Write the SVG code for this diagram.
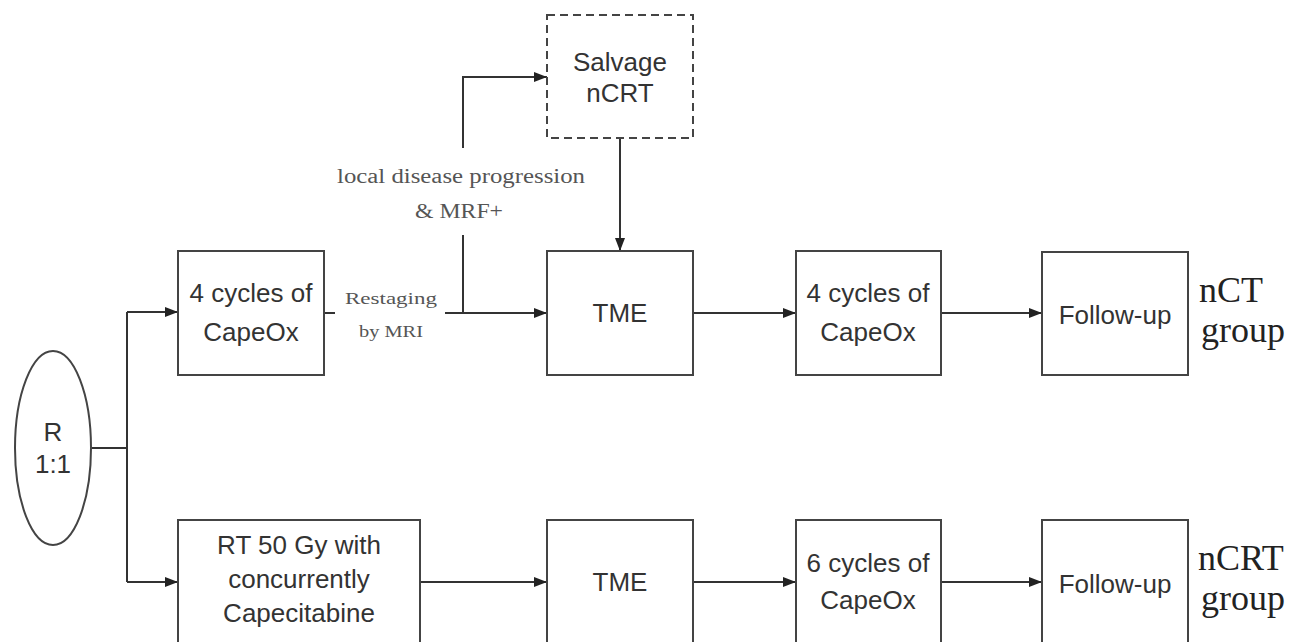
<svg xmlns="http://www.w3.org/2000/svg" width="1294" height="642" viewBox="0 0 1294 642">
<defs>
<style>
.box{fill:#fff;stroke:#444;stroke-width:2}
.dash{fill:#fff;stroke:#444;stroke-width:2;stroke-dasharray:8 5}
.t{font-family:"Liberation Sans",Arial,sans-serif;font-size:26px;fill:#333;text-anchor:middle}
.s{font-family:"Liberation Serif","Times New Roman",serif;fill:#555;text-anchor:middle}
.g{font-family:"Liberation Serif","Times New Roman",serif;font-size:36px;fill:#222;text-anchor:start}
.c{fill:none;stroke:#333;stroke-width:2}
</style>
<marker id="ah" viewBox="0 0 13 10" refX="13" refY="5" markerWidth="13" markerHeight="10" markerUnits="userSpaceOnUse" orient="auto">
<path d="M0,0 L13,5 L0,10 Z" fill="#222"/>
</marker>
</defs>
<rect width="1294" height="642" fill="#fff"/>

<g id="connectors">
<path class="c" d="M92,448 H127"/>
<path class="c" d="M127,312 V582"/>
<path class="c" d="M127,312 H178" marker-end="url(#ah)"/>
<path class="c" d="M127,582 H178" marker-end="url(#ah)"/>
<path class="c" d="M324,313 H335"/>
<path class="c" d="M445,313 H547" marker-end="url(#ah)"/>
<path class="c" d="M463,313 V235"/>
<path class="c" d="M463,148 V77 H547" marker-end="url(#ah)"/>
<path class="c" d="M620,138 V251" marker-end="url(#ah)"/>
<path class="c" d="M693,313 H796" marker-end="url(#ah)"/>
<path class="c" d="M941,313 H1042" marker-end="url(#ah)"/>
<path class="c" d="M420,582 H547" marker-end="url(#ah)"/>
<path class="c" d="M693,582 H796" marker-end="url(#ah)"/>
<path class="c" d="M941,582 H1042" marker-end="url(#ah)"/>
</g>

<g id="labels">
<text class="s" x="391" y="304" font-size="17" textLength="92" lengthAdjust="spacingAndGlyphs">Restaging</text>
<text class="s" x="391" y="337" font-size="17" textLength="64" lengthAdjust="spacingAndGlyphs">by MRI</text>
<text class="s" x="461" y="183" font-size="20" textLength="248" lengthAdjust="spacingAndGlyphs">local disease progression</text>
<text class="s" x="459" y="218" font-size="20" textLength="88" lengthAdjust="spacingAndGlyphs">&amp; MRF+</text>
</g>

<g id="node-R">
<ellipse cx="53" cy="448" rx="38" ry="97" fill="#fff" stroke="#444" stroke-width="2"/>
<text class="t" x="53" y="441" font-size="22">R</text>
<text class="t" x="53" y="473" font-size="22">1:1</text>
</g>

<g id="node-capeox4a">
<rect class="box" x="178" y="251" width="146" height="124"/>
<text class="t" x="251" y="302">4 cycles of</text>
<text class="t" x="251" y="341">CapeOx</text>
</g>

<g id="node-salvage">
<rect class="dash" x="547" y="15" width="146" height="123"/>
<text class="t" x="620" y="71">Salvage</text>
<text class="t" x="620" y="102">nCRT</text>
</g>

<g id="node-tme1">
<rect class="box" x="547" y="251" width="146" height="124"/>
<text class="t" x="620" y="322">TME</text>
</g>

<g id="node-capeox4b">
<rect class="box" x="796" y="251" width="145" height="124"/>
<text class="t" x="868" y="302">4 cycles of</text>
<text class="t" x="868" y="341">CapeOx</text>
</g>

<g id="node-follow1">
<rect class="box" x="1042" y="252" width="146" height="123"/>
<text class="t" x="1115" y="324">Follow-up</text>
</g>

<g id="label-nct">
<text class="g" x="1199" y="302">nCT</text>
<text class="g" x="1201" y="342">group</text>
</g>

<g id="node-rt">
<rect class="box" x="178" y="520" width="242" height="125"/>
<text class="t" x="299" y="554">RT 50 Gy with</text>
<text class="t" x="299" y="588">concurrently</text>
<text class="t" x="299" y="622">Capecitabine</text>
</g>

<g id="node-tme2">
<rect class="box" x="547" y="520" width="146" height="125"/>
<text class="t" x="620" y="591">TME</text>
</g>

<g id="node-capeox6">
<rect class="box" x="796" y="520" width="145" height="125"/>
<text class="t" x="868" y="572">6 cycles of</text>
<text class="t" x="868" y="609">CapeOx</text>
</g>

<g id="node-follow2">
<rect class="box" x="1042" y="520" width="146" height="125"/>
<text class="t" x="1115" y="593">Follow-up</text>
</g>

<g id="label-ncrt">
<text class="g" x="1198" y="570">nCRT</text>
<text class="g" x="1201" y="610">group</text>
</g>
</svg>
